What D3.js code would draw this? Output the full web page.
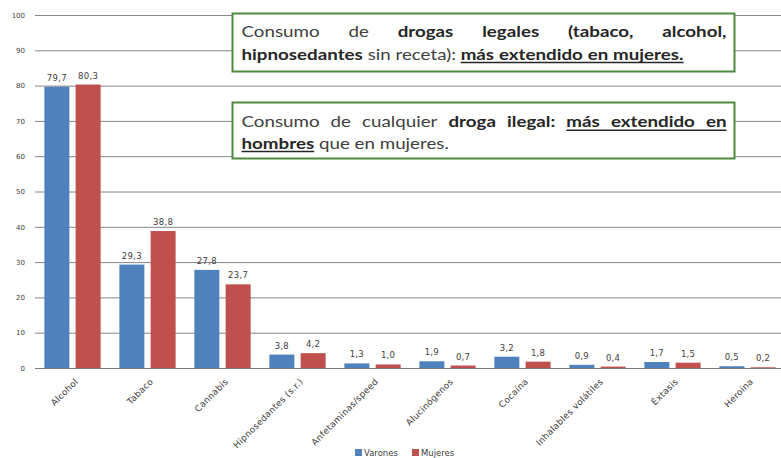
<!DOCTYPE html>
<html><head><meta charset="utf-8">
<script src="https://cdn.jsdelivr.net/npm/d3@7"></script>
<style>body{margin:0;background:#fff} svg{display:block}</style>
</head><body><svg id="c" width="781" height="458"></svg>
<script>
const categories = ["Alcohol","Tabaco","Cannabis","Hipnosedantes (s.r.)","Anfetaminas/speed","Alucinógenos","Cocaína","Inhalables volátiles","Éxtasis","Heroína"];
const seriesNames = ["Varones","Mujeres"];
const varones = [79.7,29.3,27.8,3.8,1.3,1.9,3.2,0.9,1.7,0.5];
const mujeres = [80.3,38.8,23.7,4.2,1.0,0.7,1.8,0.4,1.5,0.2];
const yTicks = [0,10,20,30,40,50,60,70,80,90,100];
const seriesColors = ["#4f81bd","#c0504d"];

// Notes: each word [text, bold, underline]
const note1Lines = [
  [["Consumo",0,0],["de",0,0],["drogas",1,0],["legales",1,0],["(tabaco,",1,0],["alcohol,",1,0]],
  [["hipnosedantes",1,0],["sin",0,0],["receta):",0,0],["más",1,1],["extendido",1,1],["en",1,1],["mujeres.",1,1]]
];
const note2Lines = [
  [["Consumo",0,0],["de",0,0],["cualquier",0,0],["droga",1,0],["ilegal:",1,0],["más",1,1],["extendido",1,1],["en",1,1]],
  [["hombres",1,1],["que",0,0],["en",0,0],["mujeres.",0,0]]
];

const svg = d3.select("#c");
svg.append("rect").attr("width",781).attr("height",458).attr("fill","#fff");

const plotLeft = 35, plotRight = 785, plotTop = 15, plotBottom = 368;
const y = d3.scaleLinear().domain([0,100]).range([plotBottom, plotTop]);
const x0 = d3.scaleBand().domain(categories).range([plotLeft, plotRight]).paddingInner(0.25).paddingOuter(0.125);
const x1 = d3.scaleBand().domain(seriesNames).range([0, x0.bandwidth()]).paddingInner(0.2);

const labelFont = "'DejaVu Sans', sans-serif";

// Y grid + labels
const yAxis = svg.append("g").attr("transform",`translate(${plotLeft},0)`)
  .call(d3.axisLeft(y).tickValues(yTicks).tickSize(-(781-plotLeft)).tickPadding(10).tickFormat(d=>d));
yAxis.select(".domain").remove();
yAxis.selectAll(".tick line").attr("stroke","#868686").attr("stroke-width",1);
yAxis.selectAll(".tick text").attr("font-family",labelFont).attr("font-size",7).attr("fill","#404040");

// X axis
const xAxis = svg.append("g").attr("transform",`translate(0,${plotBottom})`)
  .call(d3.axisBottom(x0).tickSize(0).tickPadding(0));
xAxis.select(".domain").attr("stroke","#7f7f7f").attr("stroke-width",1.2);
xAxis.selectAll(".tick text")
  .attr("font-family",labelFont).attr("font-size",8.8).attr("letter-spacing",0.3).attr("fill","#404040")
  .attr("text-anchor","end")
  .attr("transform","translate(4,12) rotate(-45)")
  .attr("dy","0.35em").attr("y",0);

// Bars
const data = categories.map((c,i)=>({c, vals:[varones[i], mujeres[i]]}));
const groups = svg.append("g").selectAll("g").data(data).join("g")
  .attr("transform",d=>`translate(${x0(d.c)},0)`);
groups.selectAll("rect").data(d=>d.vals.map((v,j)=>({s:seriesNames[j], v, j})))
  .join("rect")
  .attr("x",d=>x1(d.s)).attr("width",x1.bandwidth())
  .attr("y",d=>y(d.v)).attr("height",d=>y(0)-y(d.v))
  .attr("fill",d=>seriesColors[d.j]);
const fmt = v => d3.format(".1f")(v).replace(".",",");
groups.selectAll("text").data(d=>d.vals.map((v,j)=>({s:seriesNames[j], v, j})))
  .join("text")
  .attr("x",d=>x1(d.s)+x1.bandwidth()/2).attr("y",d=>y(d.v)-6)
  .attr("text-anchor","middle").attr("font-family",labelFont).attr("font-size",8.5)
  .attr("letter-spacing",0.3).attr("fill","#404040").text(d=>fmt(d.v));

// Legend
const legend = svg.append("g").attr("font-family",labelFont).attr("font-size",8.5).attr("fill","#404040");
const legX = [355, 412];
seriesNames.forEach((s,i)=>{
  legend.append("rect").attr("x",legX[i]).attr("y",449).attr("width",7).attr("height",7).attr("fill",seriesColors[i]);
  legend.append("text").attr("x",legX[i]+9).attr("y",456).text(s);
});

// Notes
const noteFont = "Lato, 'Open Sans', sans-serif";
const noteSize = 15;
const noteStretch = 1.25;
function drawNote(box, lines, baselines){
  const g = svg.append("g");
  g.append("rect").attr("x",box[0]).attr("y",box[1]).attr("width",box[2]).attr("height",box[3])
    .attr("fill","#fff").attr("stroke","#4e8a3e").attr("stroke-width",2);
  const xs = 241.5, xe = 726.5;
  const t1 = g.append("text").attr("font-family",noteFont).attr("font-size",noteSize).text("a a");
  const t2 = g.append("text").attr("font-family",noteFont).attr("font-size",noteSize).text("aa");
  const spaceW = (t1.node().getComputedTextLength() - t2.node().getComputedTextLength())*noteStretch;
  t1.remove(); t2.remove();
  lines.forEach((words,i)=>{
    const yb = baselines[i];
    const justify = i < lines.length-1;
    const nodes = words.map(w=>g.append("text")
      .attr("font-family",noteFont).attr("font-size",noteSize)
      .attr("font-weight",w[1]?700:400).attr("fill",w[1]?"#262626":"#404040").text(w[0]));
    const widths = nodes.map(n=>n.node().getComputedTextLength()*noteStretch);
    const gap = justify ? (xe-xs-d3.sum(widths))/(words.length-1) : spaceW;
    let x = xs; const pos=[];
    nodes.forEach((n,k)=>{
      n.attr("transform",`translate(${x},${yb}) scale(${noteStretch},1)`);
      pos.push([x,x+widths[k]]); x += widths[k]+gap;
    });
    let k=0;
    while(k<words.length){
      if(words[k][2]){
        let m=k; while(m+1<words.length && words[m+1][2]) m++;
        g.append("line").attr("x1",pos[k][0]).attr("x2",pos[m][1]).attr("y1",yb+3).attr("y2",yb+3)
          .attr("stroke","#262626").attr("stroke-width",1.4);
        k=m+1;
      } else k++;
    }
  });
}
drawNote([232.5,13.5,502,58], note1Lines, [37.3,59.5]);
drawNote([232.5,102.5,502,56], note2Lines, [127.3,148.5]);
</script></body></html>
